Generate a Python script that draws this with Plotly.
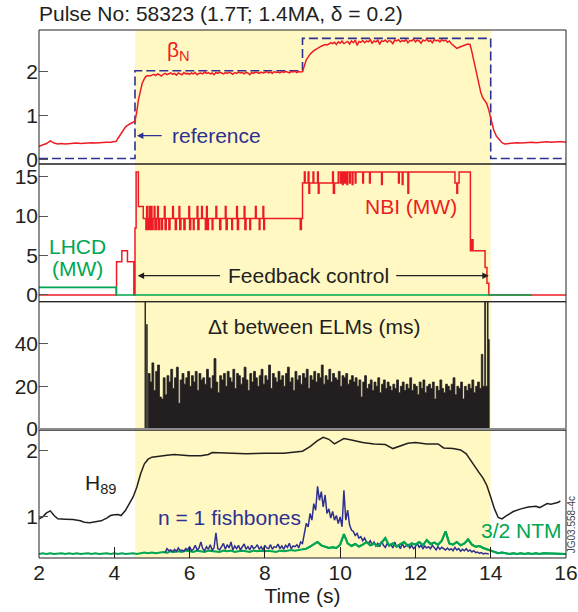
import plotly.graph_objects as go

# ------------------------------------------------------------------ data
# normalised beta (red), samples
bn_pre = [0.30, 0.33, 0.36, 0.42, 0.37, 0.35, 0.36, 0.35, 0.36, 0.36, 0.37,
          0.36, 0.37, 0.37, 0.38, 0.37, 0.38, 0.38, 0.39, 0.39, 0.40]          # 2.0 .. 4.0 (0.1 s)
bn_rise = [(4.05, 0.41), (4.1, 0.48), (4.2, 0.62), (4.3, 0.74), (4.4, 0.80), (4.5, 0.84),
           (4.55, 0.87), (4.6, 1.10), (4.64, 1.35), (4.7, 1.58), (4.74, 1.73), (4.8, 1.84),
           (4.84, 1.89), (4.9, 1.91), (4.95, 1.90)]
bn_flat1 = [1.92, 1.94, 1.91, 1.95, 1.93, 1.90, 1.94, 1.96, 1.93, 1.95,
            1.97, 1.94, 1.96, 1.92, 1.97, 1.95, 1.93, 1.98, 1.95, 1.96,
            1.94, 1.97, 1.95, 1.98, 1.93, 1.96, 1.97, 1.95, 1.99, 1.96,
            1.98, 1.95, 1.97, 1.93, 1.98, 1.96, 1.99, 1.97, 1.95, 1.98,
            1.96, 1.99, 1.97, 1.94, 1.98, 1.96, 1.99, 1.97, 1.98, 1.95,
            1.99, 1.97, 1.93, 1.98, 1.96, 1.99, 1.98, 1.96, 1.99, 1.97,
            1.98, 2.00, 1.97, 1.99, 1.96, 2.00, 1.98, 1.99, 1.97, 2.00,
            1.98, 2.00, 1.99, 1.97, 2.00, 1.99, 2.01, 1.98, 2.00, 1.99]    # 5.00 .. 8.95 (0.05 s)
bn_step = [(9.0, 2.00), (9.05, 2.12), (9.1, 2.27), (9.15, 2.33), (9.2, 2.40), (9.3, 2.48),
           (9.4, 2.54), (9.5, 2.58), (9.6, 2.62), (9.65, 2.61)]
bn_flat2 = [2.63, 2.66, 2.64, 2.67, 2.62, 2.68, 2.65, 2.70, 2.64, 2.67,
            2.69, 2.63, 2.70, 2.66, 2.72, 2.60, 2.69, 2.67, 2.71, 2.66,
            2.70, 2.68, 2.73, 2.65, 2.70, 2.68, 2.72, 2.62, 2.70, 2.69,
            2.72, 2.67, 2.71, 2.69, 2.64, 2.72, 2.70, 2.73, 2.68, 2.71,
            2.69, 2.73, 2.66, 2.71, 2.70, 2.74, 2.68, 2.72, 2.70, 2.65,
            2.72, 2.70, 2.74, 2.69, 2.71, 2.66, 2.73, 2.70, 2.72, 2.68,
            2.73, 2.70, 2.72, 2.67, 2.70, 2.64, 2.60, 2.56, 2.53, 2.55,
            2.57, 2.58, 2.60, 2.62, 2.63]                                    # 9.70 .. 13.40 (0.05 s)
bn_fall = [(13.45, 2.62), (13.5, 2.45), (13.55, 2.25), (13.6, 2.05), (13.65, 1.89), (13.7, 1.70),
           (13.74, 1.51), (13.79, 1.40), (13.84, 1.34), (13.89, 1.28), (13.94, 1.15), (13.99, 1.00),
           (14.04, 0.80), (14.08, 0.67), (14.15, 0.53), (14.23, 0.44), (14.3, 0.38), (14.37, 0.35),
           (14.5, 0.36)]
bn_post = [0.37, 0.38, 0.37, 0.38, 0.38, 0.39, 0.38, 0.39, 0.39, 0.40,
           0.39, 0.40, 0.40, 0.40, 0.39]                                     # 14.6 .. 16.0 (0.1 s)

# beta_N reference (blue dashed, step)
ref_t = [2.0, 4.55, 9.0, 14.0, 16.0]
ref_v = [0.02, 2.02, 2.76, 0.02, 0.02]

# NBI power (MW), step changes (time, value)
nbi = [(2.0, 0.0), (4.06, 4.2), (4.2, 5.6), (4.35, 4.2), (4.52, 0.0), (4.55, 8.5), (4.58, 15.6),
       (4.64, 11.2), (4.77, 9.7), (4.84, 8.3), (4.86, 11.2), (4.88, 8.3), (4.91, 9.7), (4.93, 11.2),
       (4.95, 8.3), (4.98, 11.2), (5.0, 8.3), (5.03, 9.7), (5.06, 11.2), (5.08, 8.3), (5.12, 9.7),
       (5.15, 11.2), (5.17, 8.3), (5.2, 9.7), (5.25, 8.3), (5.28, 9.7), (5.33, 11.2), (5.35, 8.3),
       (5.38, 9.7), (5.45, 8.3), (5.48, 9.7), (5.55, 11.2), (5.57, 9.7), (5.62, 8.3), (5.65, 9.7),
       (5.72, 11.2), (5.74, 8.3), (5.77, 9.7), (5.85, 8.3), (5.88, 9.7), (5.98, 11.2), (6.0, 8.3),
       (6.03, 9.7), (6.1, 8.3), (6.12, 9.7), (6.2, 11.2), (6.22, 8.3), (6.25, 9.7), (6.32, 11.2),
       (6.34, 9.7), (6.42, 8.3), (6.45, 11.2), (6.47, 8.3), (6.5, 9.7), (6.6, 8.3), (6.62, 9.7),
       (6.7, 11.2), (6.72, 9.7), (6.8, 8.3), (6.83, 9.7), (6.95, 11.2), (6.97, 8.3), (7.0, 9.7),
       (7.12, 8.3), (7.14, 9.7), (7.25, 11.2), (7.27, 8.3), (7.3, 9.7), (7.45, 11.2), (7.47, 8.3),
       (7.5, 9.7), (7.6, 8.3), (7.62, 9.7), (7.75, 11.2), (7.77, 9.7), (7.85, 8.3), (7.87, 9.7),
       (7.95, 11.2), (7.97, 8.3), (7.99, 9.7), (8.94, 8.3), (8.97, 9.7), (9.0, 14.2), (9.05, 15.6),
       (9.07, 14.2), (9.15, 15.6), (9.17, 12.9), (9.19, 14.2), (9.28, 15.6), (9.3, 14.2),
       (9.4, 15.6), (9.42, 12.9), (9.44, 14.2), (9.8, 15.6), (9.82, 12.9), (9.85, 14.2),
       (9.95, 15.6), (10.0, 14.2), (10.03, 15.6), (10.06, 14.0), (10.08, 15.6), (10.12, 14.2),
       (10.14, 15.6), (10.18, 14.0), (10.2, 15.6), (10.25, 14.2), (10.27, 15.6), (10.32, 14.0),
       (10.34, 15.6), (10.4, 14.2), (10.42, 15.6), (10.6, 14.2), (10.62, 15.6), (10.78, 14.2),
       (10.8, 15.6), (11.1, 14.0), (11.12, 15.6), (11.55, 14.2), (11.57, 15.6), (11.65, 14.0),
       (11.67, 15.6), (11.8, 12.9), (11.82, 15.6), (13.05, 14.2), (13.1, 12.9), (13.12, 14.2),
       (13.16, 15.6), (13.46, 5.6), (13.5, 7.0), (13.53, 5.6), (13.85, 3.5), (13.9, 1.5),
       (13.95, 0.0), (16.0, 0.0)]

# LHCD power (MW)
lhcd = [(2.0, 0.97), (4.05, 0.0), (15.1, 0.0)]

# time between ELMs (ms)
elm_start = [(4.80, 0), (4.815, 62), (4.83, 0), (4.86, 49), (4.875, 0)]
elm_vals = [26, 22, 31, 18, 27, 30, 15, 14, 24, 16,
            25, 22, 28, 19, 24, 29, 12, 23, 26, 21,
            24, 27, 20, 25, 22, 27, 18, 26, 23, 24,
            21, 28, 24, 19, 25, 33, 22, 17, 25, 23,
            26, 20, 27, 24, 22, 28, 19, 26, 25, 21,
            24, 29, 23, 18, 26, 22, 27, 24, 20, 25,
            28, 21, 25, 23, 30, 19, 26, 24, 22, 27,
            23, 25, 20, 26, 29, 22, 24, 18, 27, 23,
            25, 21, 26, 24, 28, 19, 25, 23, 27, 22,
            26, 24, 30, 21, 25, 23, 28, 22, 26, 24,
            23, 27, 20, 25, 24, 26, 21, 23, 25, 22,
            24, 20, 23, 15, 22, 25, 19, 21, 23, 18,
            22, 20, 24, 17, 21, 23, 19, 22, 20, 18,
            21, 19, 23, 17, 20, 22, 18, 21, 19, 24,
            18, 21, 20, 16, 22, 19, 23, 17, 20, 21,
            19, 22, 14, 20, 18, 23, 19, 17, 21, 20,
            18, 21, 24, 16, 20, 19, 22, 14, 20, 18,
            21, 19, 23, 17, 20, 22, 19]                                     # 4.90 .. 13.70 (0.05 s)
elm_end = [(13.75, 35), (13.79, 20), (13.84, 62), (13.86, 20), (13.91, 62), (13.93, 42), (13.96, 0), (16.0, 0)]

# H89 confinement factor (black)
h89 = [(2.0, 0.97), (2.1, 1.00), (2.2, 1.06), (2.3, 1.09), (2.4, 1.02), (2.5, 0.97), (2.7, 0.965),
       (2.9, 0.96), (3.1, 0.94), (3.2, 0.92), (3.35, 0.91), (3.5, 0.93), (3.65, 0.94), (3.8, 0.98),
       (3.9, 1.02), (4.0, 1.03), (4.1, 1.035), (4.18, 1.02), (4.3, 1.10), (4.4, 1.20), (4.5, 1.30),
       (4.6, 1.45), (4.7, 1.65), (4.8, 1.80), (4.9, 1.87), (5.0, 1.90), (5.2, 1.92), (5.4, 1.93),
       (5.6, 1.94), (5.8, 1.93), (6.0, 1.92), (6.3, 1.92), (6.5, 1.94), (6.6, 1.97), (7.0, 1.96),
       (7.5, 1.95), (8.0, 1.96), (8.5, 1.96), (9.0, 1.99), (9.2, 2.06), (9.4, 2.15), (9.55, 2.20),
       (9.7, 2.17), (9.85, 2.10), (10.0, 2.15), (10.1, 2.18), (10.3, 2.16), (10.6, 2.12),
       (10.9, 2.10), (11.2, 2.09), (11.4, 2.03), (11.6, 2.07), (11.8, 2.11), (12.0, 2.12),
       (12.3, 2.10), (12.6, 2.10), (12.75, 2.04), (13.0, 2.03), (13.2, 2.01), (13.35, 1.95),
       (13.5, 1.82), (13.6, 1.74), (13.7, 1.66), (13.8, 1.58), (13.9, 1.47), (14.0, 1.30),
       (14.1, 1.12), (14.2, 0.99), (14.3, 0.97), (14.4, 1.01), (14.6, 1.08), (14.8, 1.12),
       (15.0, 1.15), (15.2, 1.16), (15.3, 1.14), (15.5, 1.20), (15.6, 1.19), (15.8, 1.22),
       (15.85, 1.24)]

# n = 1 fishbone amplitude (blue, a.u.)
fish_vals = [0.46, 0.52, 0.49, 0.50, 0.47, 0.51, 0.48, 0.53, 0.49, 0.50,
             0.48, 0.52, 0.50, 0.55, 0.49, 0.51, 0.57, 0.50, 0.53, 0.62,
             0.52, 0.49, 0.55, 0.51, 0.58, 0.50, 0.53, 0.76, 0.52, 0.50,
             0.55, 0.60, 0.51, 0.58, 0.53, 0.62, 0.50, 0.56, 0.52, 0.57,
             0.50, 0.54, 0.59, 0.51, 0.55, 0.50, 0.57, 0.52, 0.54, 0.58,
             0.51, 0.55, 0.50, 0.57, 0.53, 0.52, 0.58, 0.51, 0.55, 0.54,
             0.59, 0.52, 0.56, 0.51, 0.57, 0.54, 0.60, 0.52, 0.56, 0.55,
             0.58, 0.53, 0.62, 0.60, 0.75, 0.90, 0.85, 1.05, 0.95, 1.20,
             1.10, 1.46, 1.25, 1.38, 1.15, 1.33, 1.05, 1.12, 0.98, 1.08,
             0.95, 1.02, 0.90, 1.00, 0.85, 1.40, 0.95, 1.10, 0.88, 0.80,
             0.78, 0.72, 0.75, 0.68, 0.70, 0.64, 0.68, 0.62, 0.60, 0.64,
             0.58, 0.62, 0.56, 0.60, 0.55, 0.63, 0.57, 0.54, 0.60, 0.56,
             0.58, 0.53, 0.62, 0.55, 0.57, 0.52, 0.60, 0.54, 0.56, 0.58,
             0.53, 0.57, 0.52, 0.55, 0.60, 0.54, 0.57, 0.52, 0.56, 0.53,
             0.55, 0.52, 0.57, 0.53, 0.50, 0.55, 0.51, 0.54, 0.52, 0.50,
             0.53, 0.50, 0.52, 0.49, 0.54, 0.50, 0.52, 0.48, 0.51, 0.49,
             0.52, 0.48, 0.50, 0.47, 0.49, 0.46, 0.47, 0.45, 0.46, 0.44,
             0.45, 0.44, 0.44]                                               # 5.35 .. 13.95 (0.05 s)

# 3/2 NTM amplitude (green, a.u.)
ntm_vals = [0.44, 0.45, 0.44, 0.45, 0.44, 0.45, 0.45, 0.44, 0.45, 0.44,
            0.45, 0.44, 0.45, 0.45, 0.44, 0.45, 0.44, 0.45, 0.45, 0.44,
            0.45, 0.44, 0.45, 0.44, 0.45, 0.45, 0.44, 0.45, 0.46, 0.45,
            0.46, 0.45, 0.46, 0.47, 0.46, 0.48, 0.47, 0.48, 0.47, 0.49,
            0.48, 0.47, 0.49, 0.48, 0.47, 0.49, 0.48, 0.48, 0.47, 0.49,
            0.48, 0.49, 0.47, 0.48, 0.49, 0.48, 0.47, 0.49, 0.48, 0.49,
            0.48, 0.49, 0.48, 0.47, 0.49, 0.48, 0.49, 0.50, 0.49, 0.50,
            0.51, 0.52, 0.55, 0.58, 0.62, 0.57, 0.55, 0.53, 0.54, 0.53,
            0.58, 0.74, 0.60, 0.56, 0.59, 0.55, 0.58, 0.62, 0.57, 0.60,
            0.56, 0.61, 0.68, 0.57, 0.60, 0.55, 0.59, 0.62, 0.56, 0.60,
            0.58, 0.62, 0.57, 0.65, 0.59, 0.61, 0.58, 0.64, 0.78, 0.60,
            0.58, 0.62, 0.57, 0.60, 0.66, 0.58, 0.55, 0.56, 0.53, 0.51,
            0.49, 0.47, 0.45, 0.46, 0.45, 0.44, 0.45, 0.44, 0.45, 0.44,
            0.45, 0.44, 0.45, 0.44, 0.45, 0.45, 0.44, 0.45, 0.44, 0.45,
            0.44]                                                            # 2.0 .. 16.0 (0.1 s)

x_ticks = [2, 4, 6, 8, 10, 12, 14, 16]
shade_t = (4.55, 14.0)


# ------------------------------------------------------------------ helpers
def sampled(t0, dt, vals):
    return [round(t0 + dt * i, 4) for i in range(len(vals))], list(vals)


def unzip(pairs):
    return [p[0] for p in pairs], [p[1] for p in pairs]


t1, v1 = sampled(2.0, 0.1, bn_pre)
t2, v2 = unzip(bn_rise)
t3, v3 = sampled(5.0, 0.05, bn_flat1)
t4, v4 = unzip(bn_step)
t5, v5 = sampled(9.7, 0.05, bn_flat2)
t6, v6 = unzip(bn_fall)
t7, v7 = sampled(14.6, 0.1, bn_post)
bn_t = t1 + t2 + t3 + t4 + t5 + t6 + t7
bn_v = v1 + v2 + v3 + v4 + v5 + v6 + v7

nbi_t, nbi_v = unzip(nbi)
lh_t, lh_v = unzip(lhcd)
es_t, es_v = unzip(elm_start)
em_t, em_v = sampled(4.90, 0.05, elm_vals)
ee_t, ee_v = unzip(elm_end)
elm_t = es_t + em_t + ee_t
elm_v = es_v + em_v + ee_v
h_t, h_v = unzip(h89)
f_t, f_v = sampled(5.35, 0.05, fish_vals)
n_t, n_v = sampled(2.0, 0.1, ntm_vals)

RED = "#ED1C24"
BLUE = "#2E3192"
GREEN = "#00A651"
BLACK = "#231F20"
YELLOW = "#FFF8C2"
FONT = "Liberation Sans, Arial, sans-serif"

fig = go.Figure()
fig.add_trace(go.Scatter(x=ref_t, y=ref_v, mode="lines", line=dict(color=BLUE, width=1.6, dash="9px,4px", shape="hv"),
                         xaxis="x", yaxis="y"))
fig.add_trace(go.Scatter(x=bn_t, y=bn_v, mode="lines", line=dict(color=RED, width=1.5), xaxis="x", yaxis="y"))
fig.add_trace(go.Scatter(x=nbi_t, y=nbi_v, mode="lines", line=dict(color=RED, width=1.5, shape="hv"),
                         xaxis="x", yaxis="y2"))
fig.add_trace(go.Scatter(x=lh_t, y=lh_v, mode="lines", line=dict(color=GREEN, width=1.6, shape="hv"),
                         xaxis="x", yaxis="y2"))
fig.add_trace(go.Scatter(x=elm_t, y=elm_v, mode="lines", line=dict(color=BLACK, width=0.8, shape="hv"),
                         fill="tozeroy", fillcolor=BLACK, xaxis="x", yaxis="y3"))
fig.add_trace(go.Scatter(x=n_t, y=n_v, mode="lines", line=dict(color=GREEN, width=2), xaxis="x", yaxis="y4"))
fig.add_trace(go.Scatter(x=f_t, y=f_v, mode="lines", line=dict(color=BLUE, width=1.5), xaxis="x", yaxis="y4"))
fig.add_trace(go.Scatter(x=n_t[70:], y=n_v[70:], mode="lines", line=dict(color=GREEN, width=2), xaxis="x", yaxis="y4"))
fig.add_trace(go.Scatter(x=h_t, y=h_v, mode="lines", line=dict(color=BLACK, width=1.5), xaxis="x", yaxis="y4"))

domains = [[0.7462, 1.0], [0.4854, 0.7462], [0.2424, 0.4854], [0.0, 0.2424]]
ranges = [[-0.107, 2.95], [-0.85, 16.6], [-0.5, 59.7], [0.379, 2.31]]
tickvals = [[0, 1, 2], [0, 5, 10, 15], [0, 20, 40], [1, 2]]

yax_common = dict(ticks="inside", ticklen=9, tickwidth=1, tickcolor="#555555", showgrid=False,
                  zeroline=False, showline=False, anchor="x", automargin=False,
                  tickfont=dict(family=FONT, size=21, color=BLACK))
layout_axes = {}
for i in range(4):
    key = "yaxis" if i == 0 else f"yaxis{i + 1}"
    layout_axes[key] = dict(yax_common, domain=domains[i], range=ranges[i], tickvals=tickvals[i])

shapes = [dict(type="rect", xref="x", yref="paper", x0=shade_t[0], x1=shade_t[1], y0=0, y1=1,
               fillcolor=YELLOW, line=dict(width=0), layer="below")]
for d in domains:
    shapes.append(dict(type="rect", xref="paper", yref="paper", x0=0, x1=1, y0=d[0], y1=d[1],
                       line=dict(color=BLACK, width=1), fillcolor="rgba(0,0,0,0)", layer="above"))
shapes.append(dict(type="line", xref="paper", yref="y3", x0=0, x1=1, y0=0, y1=0,
                   line=dict(color="#8c8c8c", width=2), layer="above"))

ann_font = dict(family=FONT, size=21)
annotations = [
    dict(text="Pulse No: 58323 (1.7T; 1.4MA, δ = 0.2)", xref="paper", yref="paper", x=-0.004, y=1.031,
         xanchor="left", yanchor="middle", showarrow=False, font=dict(ann_font, color=BLACK)),
    dict(text="β<sub>N</sub>", xref="x", yref="y", x=5.35, y=2.48, xanchor="left", yanchor="middle",
         showarrow=False, font=dict(ann_font, color=RED)),
    dict(text="reference", xref="x", yref="y", x=5.48, y=0.54, xanchor="left", yanchor="middle",
         showarrow=False, font=dict(ann_font, color=BLUE)),
    dict(text="", xref="x", yref="y", x=4.6, y=0.54, axref="x", ayref="y", ax=5.3, ay=0.54,
         showarrow=True, arrowhead=2, arrowsize=1, arrowwidth=1.3, arrowcolor=BLUE),
    dict(text="LHCD", xref="x", yref="y2", x=3.02, y=6.2, showarrow=False, font=dict(ann_font, color=GREEN)),
    dict(text="(MW)", xref="x", yref="y2", x=3.02, y=3.35, showarrow=False, font=dict(ann_font, color=GREEN)),
    dict(text="NBI (MW)", xref="x", yref="y2", x=11.87, y=11.2, showarrow=False, font=dict(ann_font, color=RED)),
    dict(text="Feedback control", xref="x", yref="y2", x=9.17, y=2.45, showarrow=False,
         font=dict(ann_font, color=BLACK)),
    dict(text="", xref="x", yref="y2", x=4.62, y=2.45, axref="x", ayref="y2", ax=6.85, ay=2.45,
         showarrow=True, arrowhead=2, arrowsize=1, arrowwidth=1.3, arrowcolor=BLACK),
    dict(text="", xref="x", yref="y2", x=13.95, y=2.45, axref="x", ayref="y2", ax=11.45, ay=2.45,
         showarrow=True, arrowhead=2, arrowsize=1, arrowwidth=1.3, arrowcolor=BLACK),
    dict(text="Δt between ELMs (ms)", xref="x", yref="y3", x=9.3, y=48, showarrow=False,
         font=dict(ann_font, color=BLACK)),
    dict(text="H<sub>89</sub>", xref="x", yref="y4", x=3.18, y=1.5, xanchor="left", showarrow=False,
         font=dict(ann_font, color=BLACK)),
    dict(text="n = 1 fishbones", xref="x", yref="y4", x=7.05, y=0.99, showarrow=False,
         font=dict(ann_font, color=BLUE)),
    dict(text="3/2 NTM", xref="x", yref="y4", x=14.83, y=0.79, showarrow=False,
         font=dict(ann_font, color=GREEN)),
    dict(text="JG03.558-4c", xref="paper", yref="paper", x=1.0105, y=0.063, xanchor="center",
         yanchor="middle", textangle=-90,
         showarrow=False, font=dict(family=FONT, size=10, color="#444444")),
]

fig.update_layout(
    width=578, height=612,
    margin=dict(l=39, r=12, t=30, b=54, autoexpand=False),
    paper_bgcolor="white", plot_bgcolor="white",
    showlegend=False,
    xaxis=dict(domain=[0, 1], range=[2, 16], anchor="y4", tickvals=x_ticks, ticks="inside", ticklen=11,
               tickcolor=BLACK, tickwidth=1, showgrid=False, zeroline=False, showline=False,
               automargin=False,
               tickfont=dict(family=FONT, size=21, color=BLACK),
               title=dict(text="Time (s)", font=dict(family=FONT, size=21, color=BLACK), standoff=4)),
    shapes=shapes,
    annotations=annotations,
    **layout_axes,
)

fig.write_html("out.html", config={"displayModeBar": False},
               post_script=["document.body.style.margin='0';document.body.style.padding='0';"
                            "document.body.style.overflow='hidden';"])
